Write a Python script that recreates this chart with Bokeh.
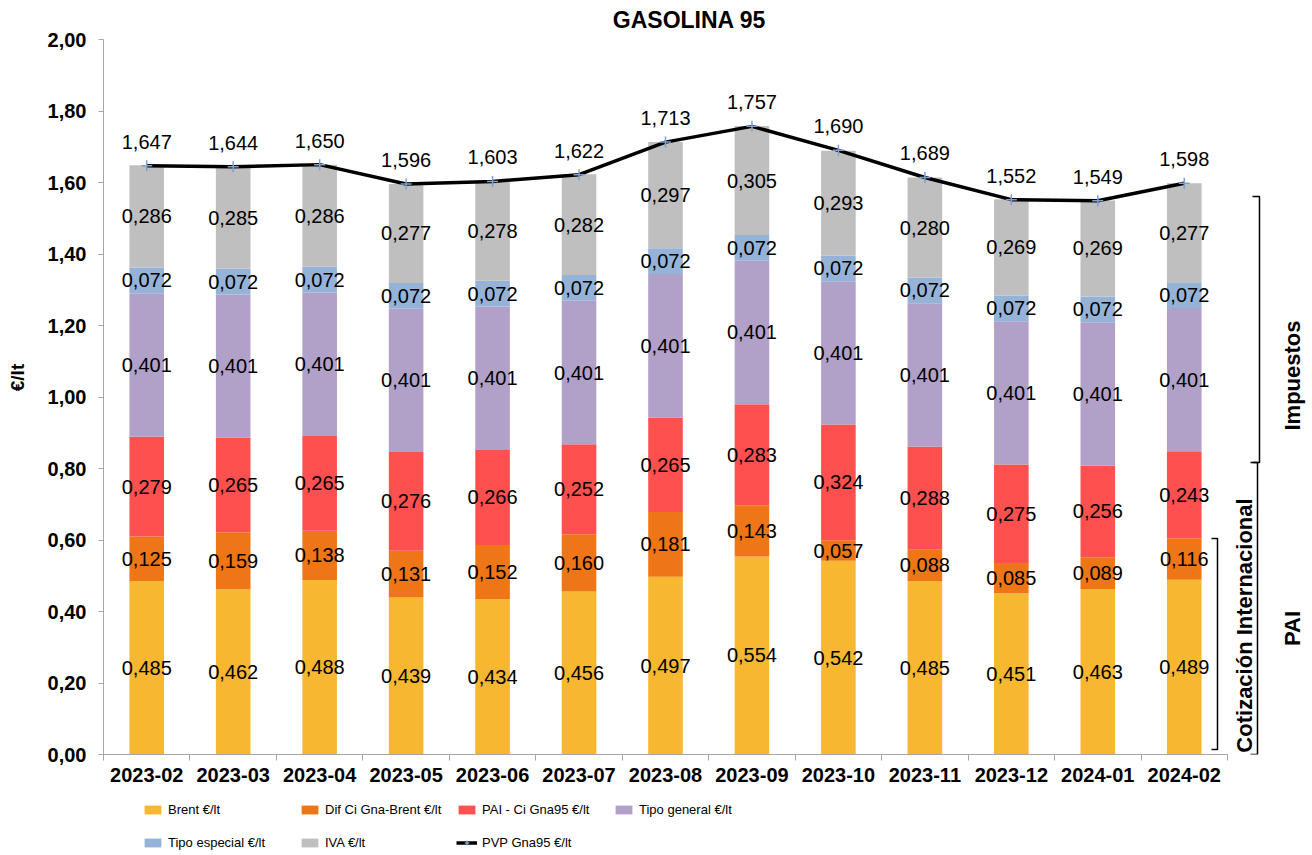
import math
from bokeh.plotting import figure
from bokeh.layouts import column
from bokeh.models import (Range1d, FixedTicker, Legend, LegendItem, ColumnDataSource,
                          CustomJSTickFormatter)
from bokeh.core.properties import value
from bokeh.embed import file_html
from bokeh.resources import INLINE

# ---------------- data ----------------
months = ["2023-02", "2023-03", "2023-04", "2023-05", "2023-06", "2023-07", "2023-08",
          "2023-09", "2023-10", "2023-11", "2023-12", "2024-01", "2024-02"]
brent = [0.485, 0.462, 0.488, 0.439, 0.434, 0.456, 0.497, 0.554, 0.542, 0.485, 0.451, 0.463, 0.489]
dif_ci = [0.125, 0.159, 0.138, 0.131, 0.152, 0.160, 0.181, 0.143, 0.057, 0.088, 0.085, 0.089, 0.116]
pai_ci = [0.279, 0.265, 0.265, 0.276, 0.266, 0.252, 0.265, 0.283, 0.324, 0.288, 0.275, 0.256, 0.243]
tipo_general = [0.401, 0.401, 0.401, 0.401, 0.401, 0.401, 0.401, 0.401, 0.401, 0.401, 0.401, 0.401, 0.401]
tipo_especial = [0.072, 0.072, 0.072, 0.072, 0.072, 0.072, 0.072, 0.072, 0.072, 0.072, 0.072, 0.072, 0.072]
iva = [0.286, 0.285, 0.286, 0.277, 0.278, 0.282, 0.297, 0.305, 0.293, 0.280, 0.269, 0.269, 0.277]
pvp = [1.647, 1.644, 1.650, 1.596, 1.603, 1.622, 1.713, 1.757, 1.690, 1.614, 1.552, 1.549, 1.598]
pvp_labels = ["1,647", "1,644", "1,650", "1,596", "1,603", "1,622", "1,713",
              "1,757", "1,690", "1,689", "1,552", "1,549", "1,598"]
series_names = ["Brent €/lt", "Dif Ci Gna-Brent €/lt", "PAI - Ci Gna95 €/lt",
                "Tipo general €/lt", "Tipo especial €/lt", "IVA €/lt"]
line_name = "PVP Gna95 €/lt"
y_ticks = [0.0, 0.2, 0.4, 0.6, 0.8, 1.0, 1.2, 1.4, 1.6, 1.8, 2.0]
title_text = "GASOLINA 95"
y_label = "€/lt"
group_labels = ["Impuestos", "PAI", "Cotización Internacional"]

colors = ["#F7B731", "#EE7616", "#FF5050", "#B1A0C7", "#95B3D7", "#BFBFBF"]
line_color = "black"
marker_color = "#7F9FCF"
FONT = "Liberation Sans"

# ---------------- geometry (canvas pixels) ----------------
W = 1310
H1 = 794
H2 = 59
n = len(months)
frame_left, frame_bottom = 103, 754
px_per_cat = 86.46
px_per_unit = 357.5
x_end = (W - frame_left) / px_per_cat
y_end = frame_bottom / px_per_unit


def sx(px):
    return (px - frame_left) / px_per_cat


def sy(py):
    return (frame_bottom - py) / px_per_unit


xs = [i + 0.5 for i in range(n)]
stack_keys = ["brent", "dif", "pai", "tg", "te", "iva"]
series = [brent, dif_ci, pai_ci, tipo_general, tipo_especial, iva]
data = {"x": xs, "pvp": pvp}
for k, s in zip(stack_keys, series):
    data[k] = s
source = ColumnDataSource(data)

p = figure(width=W, height=H1, output_backend="svg", toolbar_location=None,
           x_range=Range1d(0, x_end), y_range=Range1d(0, y_end),
           min_border_left=frame_left, min_border_right=0, min_border_top=0,
           min_border_bottom=H1 - frame_bottom)
p.outline_line_color = None
p.xgrid.visible = False
p.ygrid.visible = False

bars = p.vbar_stack(stack_keys, x="x", width=0.4, color=colors, line_color=None, source=source)

# data labels inside segments
lab_x, lab_y, lab_t = [], [], []
for i in range(n):
    base = 0.0
    for s in series:
        v = s[i]
        lab_x.append(xs[i])
        lab_y.append(base + v / 2)
        lab_t.append(f"{v:.3f}".replace(".", ","))
        base += v
p.text(x=lab_x, y=lab_y, text=lab_t, text_align="center", text_baseline="middle",
       text_font=value(FONT), text_font_size="20px", text_color="black")

# PVP line
line_r = p.line("x", "pvp", line_color=line_color, line_width=3.5, source=source)
mark_r = p.scatter("x", "pvp", marker="cross", size=11, line_color=marker_color,
                   line_width=1.5, source=source)
p.text(x=xs, y=pvp, text=pvp_labels, text_align="center", text_baseline="middle",
       y_offset=-24, text_font=value(FONT), text_font_size="20px", text_color="black")

# title
p.text(x=[sx(689)], y=[sy(19)], text=[title_text],
       text_align="center", text_baseline="middle", text_font=value(FONT),
       text_font_size="23px", text_font_style="bold", text_color="black")

# brackets on the right
brackets = [
    (1252, 1259, 196, 462),
    (1250, 1257, 462, 754),
    (1211, 1217, 538, 749),
]
for x0, x1, ytop, ybot in brackets:
    p.line([sx(x0), sx(x1), sx(x1), sx(x0)], [sy(ytop), sy(ytop), sy(ybot), sy(ybot)],
           line_color="black", line_width=1.5)

p.text(x=[sx(1292), sx(1292), sx(1244)], y=[sy(375), sy(628), sy(625)], text=group_labels,
       angle=math.pi / 2, text_align="center", text_baseline="middle",
       text_font=value(FONT), text_font_size="22px", text_font_style="bold",
       text_color="black")

# axes
ax_col = "#A6A6A6"
xa = p.xaxis[0]
xa.ticker = FixedTicker(ticks=xs, minor_ticks=list(range(n + 1)))
xa.major_label_overrides = {x: m for x, m in zip(xs, months)}
xa.bounds = (0, n)
xa.axis_line_color = ax_col
xa.major_tick_line_color = None
xa.major_tick_out = 6
xa.major_tick_in = 0
xa.minor_tick_line_color = ax_col
xa.minor_tick_out = 6
xa.minor_tick_in = 0
xa.major_label_standoff = 7
xa.major_label_text_font = FONT
xa.major_label_text_font_size = "20px"
xa.major_label_text_font_style = "bold"
xa.major_label_text_color = "black"

ya = p.yaxis[0]
ya.ticker = FixedTicker(ticks=y_ticks, minor_ticks=[])
ya.formatter = CustomJSTickFormatter(code="return tick.toFixed(2).replace('.', ',');")
ya.bounds = (0, 2.0)
ya.axis_line_color = ax_col
ya.major_tick_line_color = ax_col
ya.major_tick_out = 5
ya.major_tick_in = 0
ya.minor_tick_line_color = None
ya.major_label_standoff = 12
ya.major_label_text_font = FONT
ya.major_label_text_font_size = "20px"
ya.major_label_text_font_style = "bold"
ya.major_label_text_color = "black"
ya.axis_label = y_label
ya.axis_label_text_font = FONT
ya.axis_label_text_font_size = "19px"
ya.axis_label_text_font_style = "bold"
ya.axis_label_text_color = "black"
ya.axis_label_standoff = 17

# ---------------- legend figure (same series, ranges set so the marks are off view) ----------------
p2 = figure(width=W, height=H2, output_backend="svg", toolbar_location=None,
            x_range=Range1d(-3, -2), y_range=Range1d(-3, -2),
            min_border_left=0, min_border_right=0, min_border_top=0, min_border_bottom=0,
            x_axis_type=None, y_axis_type=None)
p2.outline_line_color = None
p2.xgrid.visible = False
p2.ygrid.visible = False

bars2 = p2.vbar_stack(stack_keys, x="x", width=0.4, color=colors, line_color=None, source=source)
items = [LegendItem(label=name, renderers=[r]) for name, r in zip(series_names, bars2)]
lr = p2.line("x", "pvp", line_color=line_color, line_width=3.5, source=source)
mr = p2.scatter("x", "pvp", marker="cross", size=11, line_color=marker_color,
                line_width=1.5, source=source)
items.append(LegendItem(label=line_name, renderers=[lr, mr]))

legend = Legend(items=items, ncols=4, orientation="horizontal",
                location=(39, 1), padding=0, margin=0, spacing=13,
                glyph_width=21, glyph_height=11, label_standoff=5,
                label_width=118, label_height=20,
                label_text_font=FONT, label_text_font_size="13px",
                label_text_color="black", background_fill_alpha=0,
                border_line_color=None)
p2.add_layout(legend, "center")

layout = column(p, p2, spacing=0)
open("out.html", "w").write(file_html(layout, INLINE))
